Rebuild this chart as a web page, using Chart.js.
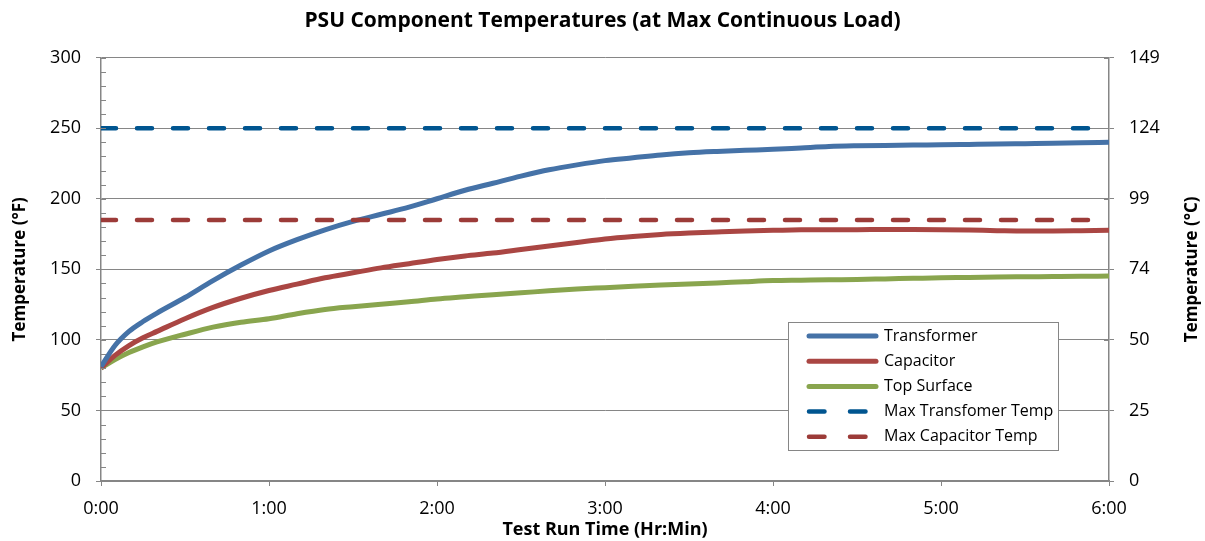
<!DOCTYPE html>
<html><head><meta charset="utf-8">
<script src="https://cdn.jsdelivr.net/npm/chart.js@4.4.0/dist/chart.umd.min.js"></script>
<style>html,body{margin:0;padding:0;background:#fff}#wrap{width:1205px;height:541px;position:relative}</style>
</head><body><div id="wrap"><canvas id="c" width="1205" height="541"></canvas></div>
<script>
// ---- data ----
const timeMinutes = [0,5,10,15,20,30,40,50,60,70,80,90,100,110,120,130,140,150,160,170,180,190,200,210,220,230,240,250,260,270,280,290,300,310,320,330,340,350,360];
const transformer = [81,96,106,113,119,130,142,153,163,171,178,184,189,194,200,206,211,216,220.5,224,227,229,231,232.5,233.5,234.3,235,236,237,237.5,237.8,238,238.3,238.5,238.7,239,239.3,239.7,240];
const capacitor = [80,89,96,101.5,106,115,123,129.5,135,139.5,144,147.5,151,154,157,159.5,161.5,164,166.5,169,171.5,173.3,174.7,175.7,176.5,177.2,177.6,178,178.1,178.1,178.2,178.2,178.1,177.8,177.4,177.1,177.2,177.4,177.6];
const topSurface = [80,86,91,95,98.5,104,109,112.5,115,118.5,121.5,123.5,125.3,127,129,130.5,132,133.3,134.8,136,137,138,138.8,139.5,140.3,141.2,142,142.3,142.6,142.8,143.2,143.6,144,144.2,144.5,144.7,144.9,145.1,145.2];
const limitTimes = [0, 360];
const maxTransformerTemp = [250, 250];
const maxCapacitorTemp = [185, 185];
const xTickLabels = ['0:00','1:00','2:00','3:00','4:00','5:00','6:00'];
const leftTickLabels = ['0','50','100','150','200','250','300'];
const rightTickLabels = ['0','25','50','74','99','124','149'];
const seriesNames = ['Transformer','Capacitor','Top Surface','Max Transfomer Temp','Max Capacitor Temp'];

// ---- helpers ----
const FONT = "'Open Sans', 'Noto Sans', sans-serif";
const AXIS = '#868686';
const pts = (xs, ys) => xs.map((x, i) => ({x: x, y: ys[i]}));

const axisMarks = {
  id: 'axisMarks',
  afterDraw(chart) {
    const ctx = chart.ctx, yl = chart.scales.y, yr = chart.scales.y2;
    ctx.save();
    ctx.strokeStyle = AXIS; ctx.lineWidth = 1;
    ctx.beginPath();
    for (let v = yl.min; v <= yl.max; v += 10) {
      const py = Math.round(yl.getPixelForValue(v)) + 0.5;
      ctx.moveTo(yl.right, py); ctx.lineTo(yl.right + 5, py);
    }
    yr.ticks.forEach(t => {
      const py = Math.round(yr.getPixelForValue(t.value)) + 0.5;
      ctx.moveTo(yr.left - 5, py); ctx.lineTo(yr.left, py);
    });
    ctx.stroke();
    // right axis title (reads bottom-to-top)
    ctx.translate(1192, (chart.chartArea.top + chart.chartArea.bottom) / 2);
    ctx.rotate(-Math.PI / 2);
    ctx.fillStyle = '#000';
    ctx.font = 'bold 17px ' + FONT;
    ctx.textAlign = 'center'; ctx.textBaseline = 'middle';
    ctx.fillText('Temperature (°C)', 0, 0);
    ctx.restore();
  }
};

const boxLegend = {
  id: 'boxLegend',
  afterDraw(chart) {
    const ctx = chart.ctx;
    const bx = 788.5, by = 322.5, bw = 270, bh = 128;
    ctx.save();
    ctx.fillStyle = '#fff'; ctx.fillRect(bx, by, bw, bh);
    ctx.strokeStyle = AXIS; ctx.lineWidth = 1; ctx.strokeRect(bx, by, bw, bh);
    ctx.font = '16px ' + FONT; ctx.textBaseline = 'middle'; ctx.textAlign = 'left';
    chart.data.datasets.forEach((ds, i) => {
      const y = 336 + i * 25.2;
      ctx.beginPath();
      ctx.strokeStyle = ds.borderColor;
      ctx.lineWidth = ds.borderDash ? 4.5 : 5;
      ctx.lineCap = 'round';
      ctx.setLineDash(ds.borderDash ? [15.5, 25.5] : []);
      ctx.moveTo(809, y); ctx.lineTo(876, y); ctx.stroke();
      ctx.setLineDash([]);
      ctx.fillStyle = '#000';
      ctx.fillText(ds.label, 884, y);
    });
    ctx.restore();
  }
};

new Chart(document.getElementById('c'), {
  type: 'line',
  data: {
    datasets: [
      {label: seriesNames[0], data: pts(timeMinutes, transformer), borderColor: '#4572A7', borderWidth: 5, pointRadius: 0, tension: 0.3, cubicInterpolationMode: 'monotone', yAxisID: 'y', order: 3},
      {label: seriesNames[1], data: pts(timeMinutes, capacitor), borderColor: '#AA4643', borderWidth: 5, pointRadius: 0, tension: 0.3, cubicInterpolationMode: 'monotone', yAxisID: 'y', order: 4},
      {label: seriesNames[2], data: pts(timeMinutes, topSurface), borderColor: '#89A54E', borderWidth: 5, pointRadius: 0, tension: 0.3, cubicInterpolationMode: 'monotone', yAxisID: 'y', order: 5},
      {label: seriesNames[3], data: pts(limitTimes, maxTransformerTemp), borderColor: '#005590', borderWidth: 4.5, borderDash: [15, 21], borderCapStyle: 'round', pointRadius: 0, yAxisID: 'y', order: 1},
      {label: seriesNames[4], data: pts(limitTimes, maxCapacitorTemp), borderColor: '#9C3B38', borderWidth: 4.5, borderDash: [15, 21], borderCapStyle: 'round', pointRadius: 0, yAxisID: 'y', order: 2}
    ]
  },
  options: {
    responsive: false,
    animation: false,
    devicePixelRatio: 1,
    layout: {padding: 0},
    plugins: {
      legend: {display: false},
      tooltip: {enabled: false},
      title: {display: true, text: 'PSU Component Temperatures (at Max Continuous Load)', color: '#000',
        font: {family: FONT, size: 21, weight: 'bold', lineHeight: 1.2}, padding: {top: 8, bottom: 24.4}}
    },
    scales: {
      x: {
        type: 'linear', min: 0, max: 360,
        afterFit(s) { s.height = 60; },
        ticks: {stepSize: 60, color: '#000', font: {family: FONT, size: 18}, padding: 12, maxRotation: 0,
          callback: (v, i) => xTickLabels[i]},
        grid: {drawOnChartArea: false, drawTicks: true, tickLength: 5, color: AXIS},
        border: {color: AXIS, width: 1.5},
        title: {display: true, text: 'Test Run Time (Hr:Min)', color: '#000', font: {family: FONT, size: 18, weight: 'bold'}, padding: {top: 0, bottom: 0}}
      },
      y: {
        position: 'left', min: 0, max: 300,
        afterFit(s) { s.width = 101; },
        ticks: {stepSize: 50, color: '#000', font: {family: FONT, size: 18}, padding: 15,
          callback: (v, i) => leftTickLabels[i]},
        grid: {color: AXIS, lineWidth: 1, tickLength: 5},
        border: {color: AXIS, width: 1.5},
        title: {display: true, text: 'Temperature (°F)', color: '#000', font: {family: FONT, size: 17, weight: 'bold'}, padding: {top: 10, bottom: 0}}
      },
      y2: {
        position: 'right', min: 0, max: 300,
        afterFit(s) { s.width = 96; },
        ticks: {stepSize: 50, color: '#000', font: {family: FONT, size: 18}, padding: 15,
          callback: (v, i) => rightTickLabels[i]},
        grid: {drawOnChartArea: false, color: AXIS, tickLength: 5},
        border: {color: AXIS, width: 1.5}
      }
    }
  },
  plugins: [axisMarks, boxLegend]
});
</script>
</body></html>
